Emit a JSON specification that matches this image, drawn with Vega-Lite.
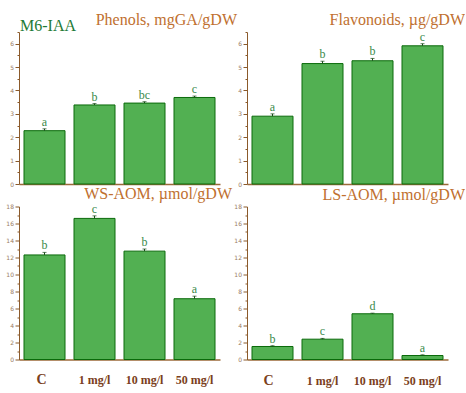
{
  "$schema": "https://vega.github.io/schema/vega-lite/v6.json",
  "padding": {"left": 5, "top": 12, "right": 0, "bottom": 0},
  "background": "white",
  "title": {"text": "M6-IAA", "anchor": "start", "color": "#1e7a36", "offset": -22, "dx": 1, "frame": "group"},
  "config": {
    "view": {"stroke": null},
    "font": "Liberation Serif",
    "axis": {"titleFont": "Liberation Serif"},
    "title": {"font": "Liberation Serif", "fontSize": 16, "fontWeight": "normal", "color": "#c0702f", "anchor": "end", "baseline": "alphabetic", "offset": 1, "frame": "group"}
  },
  "datasets": {
    "d": [
      {"panel": "Phenols", "group": "C", "value": 2.28, "hi": 2.36, "letter": "a"},
      {"panel": "Phenols", "group": "1 mg/l", "value": 3.38, "hi": 3.44, "letter": "b"},
      {"panel": "Phenols", "group": "10 mg/l", "value": 3.46, "hi": 3.52, "letter": "bc"},
      {"panel": "Phenols", "group": "50 mg/l", "value": 3.70, "hi": 3.76, "letter": "c"},
      {"panel": "Flavonoids", "group": "C", "value": 2.90, "hi": 3.00, "letter": "a"},
      {"panel": "Flavonoids", "group": "1 mg/l", "value": 5.15, "hi": 5.25, "letter": "b"},
      {"panel": "Flavonoids", "group": "10 mg/l", "value": 5.27, "hi": 5.37, "letter": "b"},
      {"panel": "Flavonoids", "group": "50 mg/l", "value": 5.91, "hi": 6.00, "letter": "c"},
      {"panel": "WS", "group": "C", "value": 12.3, "hi": 12.6, "letter": "b"},
      {"panel": "WS", "group": "1 mg/l", "value": 16.6, "hi": 16.9, "letter": "c"},
      {"panel": "WS", "group": "10 mg/l", "value": 12.75, "hi": 13.0, "letter": "b"},
      {"panel": "WS", "group": "50 mg/l", "value": 7.15, "hi": 7.45, "letter": "a"},
      {"panel": "LS", "group": "C", "value": 1.53, "hi": 1.62, "letter": "b"},
      {"panel": "LS", "group": "1 mg/l", "value": 2.39, "hi": 2.48, "letter": "c"},
      {"panel": "LS", "group": "10 mg/l", "value": 5.38, "hi": 5.45, "letter": "d"},
      {"panel": "LS", "group": "50 mg/l", "value": 0.47, "hi": 0.55, "letter": "a"}
    ]
  },
  "data": {"name": "d"},
  "columns": 2,
  "bounds": "flush",
  "spacing": {"row": 22.5, "column": 27},
  "concat": [
    {
      "width": 201, "height": 152,
      "title": {"text": "Phenols, mgGA/gDW", "dx": 17},
      "transform": [{"filter": "datum.panel == 'Phenols'"}],
      "encoding": {"x": {"field": "group", "type": "nominal", "sort": ["C", "1 mg/l", "10 mg/l", "50 mg/l"], "scale": {"paddingInner": 0.18, "paddingOuter": 0.1}, "axis": {"title": null, "labels": false, "ticks": false, "domainColor": "#9b6a3a", "domainWidth": 1.5}}},
      "layer": [
        {"mark": {"type": "bar", "fill": "#52b052", "stroke": "#0a6a0a", "strokeWidth": 1},
         "encoding": {"y": {"field": "value", "type": "quantitative", "scale": {"domain": [0, 6.5], "nice": false},
           "axis": {"title": null, "labelOverlap": false, "tickCount": 40,
             "values": [0, 0.5, 1, 1.5, 2, 2.5, 3, 3.5, 4, 4.5, 5, 5.5, 6, 6.5], "labelExpr": "datum.value % 1 == 0 ? format(datum.value, 'd') : ''",
             "tickSize": {"condition": {"test": "datum.value % 1 != 0", "value": 2}, "value": 4},
             "grid": false, "domainColor": "#8b5a2b", "tickColor": "#8b5a2b", "labelColor": "#9a7a62", "labelFont": "DejaVu Sans", "labelFontSize": 6, "labelPadding": 1.5}}}},
        {"mark": {"type": "rule", "color": "#1a4a1a"}, "encoding": {"y": {"field": "value", "type": "quantitative"}, "y2": {"field": "hi"}}},
        {"mark": {"type": "tick", "size": 4, "thickness": 1, "color": "#1a4a1a"}, "encoding": {"y": {"field": "hi", "type": "quantitative"}}},
        {"mark": {"type": "text", "baseline": "alphabetic", "dy": -3, "fontSize": 12, "color": "#3a8a4a", "font": "Liberation Serif"}, "encoding": {"y": {"field": "hi", "type": "quantitative"}, "text": {"field": "letter"}}}
      ]
    },
    {
      "width": 201, "height": 152,
      "title": {"text": "Flavonoids, µg/gDW", "dx": 17},
      "transform": [{"filter": "datum.panel == 'Flavonoids'"}],
      "encoding": {"x": {"field": "group", "type": "nominal", "sort": ["C", "1 mg/l", "10 mg/l", "50 mg/l"], "scale": {"paddingInner": 0.18, "paddingOuter": 0.1}, "axis": {"title": null, "labels": false, "ticks": false, "domainColor": "#9b6a3a", "domainWidth": 1.5}}},
      "layer": [
        {"mark": {"type": "bar", "fill": "#52b052", "stroke": "#0a6a0a", "strokeWidth": 1},
         "encoding": {"y": {"field": "value", "type": "quantitative", "scale": {"domain": [0, 6.5], "nice": false},
           "axis": {"title": null, "labelOverlap": false, "tickCount": 40,
             "values": [0, 0.5, 1, 1.5, 2, 2.5, 3, 3.5, 4, 4.5, 5, 5.5, 6, 6.5], "labelExpr": "datum.value % 1 == 0 ? format(datum.value, 'd') : ''",
             "tickSize": {"condition": {"test": "datum.value % 1 != 0", "value": 2}, "value": 4},
             "grid": false, "domainColor": "#8b5a2b", "tickColor": "#8b5a2b", "labelColor": "#9a7a62", "labelFont": "DejaVu Sans", "labelFontSize": 6, "labelPadding": 1.5}}}},
        {"mark": {"type": "rule", "color": "#1a4a1a"}, "encoding": {"y": {"field": "value", "type": "quantitative"}, "y2": {"field": "hi"}}},
        {"mark": {"type": "tick", "size": 4, "thickness": 1, "color": "#1a4a1a"}, "encoding": {"y": {"field": "hi", "type": "quantitative"}}},
        {"mark": {"type": "text", "baseline": "alphabetic", "dy": -3, "fontSize": 12, "color": "#3a8a4a", "font": "Liberation Serif"}, "encoding": {"y": {"field": "hi", "type": "quantitative"}, "text": {"field": "letter"}}}
      ]
    },
    {
      "width": 201, "height": 153,
      "title": {"text": "WS-AOM, µmol/gDW", "dx": 12},
      "transform": [{"filter": "datum.panel == 'WS'"}],
      "encoding": {"x": {"field": "group", "type": "nominal", "sort": ["C", "1 mg/l", "10 mg/l", "50 mg/l"], "scale": {"paddingInner": 0.18, "paddingOuter": 0.1},
        "axis": {"title": null, "ticks": false, "domainColor": "#9b6a3a", "domainWidth": 1.5, "labelAngle": 0, "labelFont": "Liberation Serif", "labelFontWeight": "bold", "labelColor": "#7a4020",
          "labelFontSize": {"condition": {"test": "datum.value == 'C'", "value": 14}, "value": 12},
          "labelOffset": {"condition": {"test": "datum.value == 'C'", "value": -3}, "value": 0},
          "labelBaseline": "alphabetic", "labelPadding": 24}}},
      "layer": [
        {"mark": {"type": "bar", "fill": "#52b052", "stroke": "#0a6a0a", "strokeWidth": 1},
         "encoding": {"y": {"field": "value", "type": "quantitative", "scale": {"domain": [0, 18], "nice": false},
           "axis": {"title": null, "labelOverlap": false, "tickCount": 40,
             "values": [0, 1, 2, 3, 4, 5, 6, 7, 8, 9, 10, 11, 12, 13, 14, 15, 16, 17, 18], "labelExpr": "datum.value % 2 == 0 ? format(datum.value, 'd') : ''",
             "tickSize": {"condition": {"test": "datum.value % 2 != 0", "value": 2}, "value": 4},
             "grid": false, "domainColor": "#8b5a2b", "tickColor": "#8b5a2b", "labelColor": "#9a7a62", "labelFont": "DejaVu Sans", "labelFontSize": 6, "labelPadding": 1.5}}}},
        {"mark": {"type": "rule", "color": "#1a4a1a"}, "encoding": {"y": {"field": "value", "type": "quantitative"}, "y2": {"field": "hi"}}},
        {"mark": {"type": "tick", "size": 4, "thickness": 1, "color": "#1a4a1a"}, "encoding": {"y": {"field": "hi", "type": "quantitative"}}},
        {"mark": {"type": "text", "baseline": "alphabetic", "dy": -3, "fontSize": 12, "color": "#3a8a4a", "font": "Liberation Serif"}, "encoding": {"y": {"field": "hi", "type": "quantitative"}, "text": {"field": "letter"}}}
      ]
    },
    {
      "width": 201, "height": 153,
      "title": {"text": "LS-AOM, µmol/gDW", "dx": 17},
      "transform": [{"filter": "datum.panel == 'LS'"}],
      "encoding": {"x": {"field": "group", "type": "nominal", "sort": ["C", "1 mg/l", "10 mg/l", "50 mg/l"], "scale": {"paddingInner": 0.18, "paddingOuter": 0.1},
        "axis": {"title": null, "ticks": false, "domainColor": "#9b6a3a", "domainWidth": 1.5, "labelAngle": 0, "labelFont": "Liberation Serif", "labelFontWeight": "bold", "labelColor": "#7a4020",
          "labelFontSize": {"condition": {"test": "datum.value == 'C'", "value": 14}, "value": 12},
          "labelOffset": {"condition": {"test": "datum.value == 'C'", "value": -4}, "value": 0},
          "labelBaseline": "alphabetic", "labelPadding": 25}}},
      "layer": [
        {"mark": {"type": "bar", "fill": "#52b052", "stroke": "#0a6a0a", "strokeWidth": 1},
         "encoding": {"y": {"field": "value", "type": "quantitative", "scale": {"domain": [0, 18], "nice": false},
           "axis": {"title": null, "labelOverlap": false, "tickCount": 40,
             "values": [0, 1, 2, 3, 4, 5, 6, 7, 8, 9, 10, 11, 12, 13, 14, 15, 16, 17, 18], "labelExpr": "datum.value % 2 == 0 ? format(datum.value, 'd') : ''",
             "tickSize": {"condition": {"test": "datum.value % 2 != 0", "value": 2}, "value": 4},
             "grid": false, "domainColor": "#8b5a2b", "tickColor": "#8b5a2b", "labelColor": "#9a7a62", "labelFont": "DejaVu Sans", "labelFontSize": 6, "labelPadding": 1.5}}}},
        {"mark": {"type": "rule", "color": "#1a4a1a"}, "encoding": {"y": {"field": "value", "type": "quantitative"}, "y2": {"field": "hi"}}},
        {"mark": {"type": "tick", "size": 4, "thickness": 1, "color": "#1a4a1a"}, "encoding": {"y": {"field": "hi", "type": "quantitative"}}},
        {"mark": {"type": "text", "baseline": "alphabetic", "dy": -3, "fontSize": 12, "color": "#3a8a4a", "font": "Liberation Serif"}, "encoding": {"y": {"field": "hi", "type": "quantitative"}, "text": {"field": "letter"}}}
      ]
    }
  ]
}
